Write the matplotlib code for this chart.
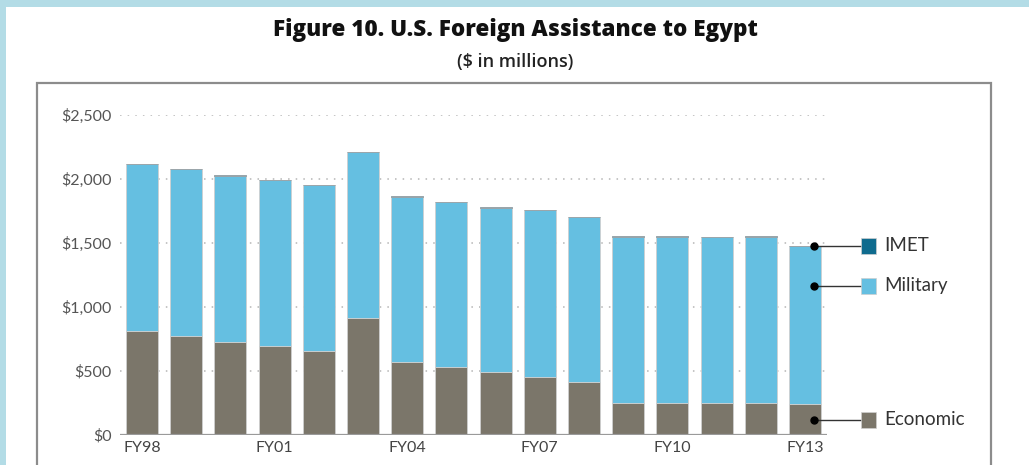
import matplotlib
matplotlib.use("Agg")
import matplotlib.pyplot as plt
from matplotlib.patches import Rectangle
import numpy as np

# ---- data ($ in millions) ----
years = ["FY98", "FY99", "FY00", "FY01", "FY02", "FY03", "FY04", "FY05",
         "FY06", "FY07", "FY08", "FY09", "FY10", "FY11", "FY12", "FY13"]
economic = [815, 775, 727, 695, 655, 911, 571, 530, 490, 455, 412, 250, 250, 250, 250, 241]
military = [1300, 1300, 1300, 1300, 1300, 1300, 1292, 1290, 1287, 1300, 1289, 1300, 1300, 1297, 1300, 1234]
imet = [1.0, 1.0, 1.0, 1.0, 1.2, 1.2, 1.4, 1.2, 1.2, 1.3, 1.2, 1.3, 1.9, 1.4, 1.4, 1.8]
yticks = [0, 500, 1000, 1500, 2000, 2500]
ytick_labels = ["$0", "$500", "$1,000", "$1,500", "$2,000", "$2,500"]
xtick_labels = ["FY98", "FY01", "FY04", "FY07", "FY10", "FY13"]
series_names = ["IMET", "Military", "Economic"]

C_ECON = "#7b766a"
C_MIL = "#65bfe1"
C_IMET = "#0f6b8e"
C_BG = "#b3dce6"

W, H = 1029, 465
fig = plt.figure(figsize=(W / 100, H / 100), dpi=100)
fig.patch.set_facecolor(C_BG)

def fx(px):
    return px / W

def fy(py):
    return 1 - py / H

# white panel
fig.add_artist(Rectangle((fx(6), 0), 1 - fx(6), fy(7), transform=fig.transFigure,
                         facecolor="white", edgecolor="none", zorder=0))
# inner box
fig.add_artist(Rectangle((fx(37), fy(500)), fx(991) - fx(37), fy(83) - fy(500),
                         transform=fig.transFigure, facecolor="none",
                         edgecolor="#8c8c8c", linewidth=1.6, zorder=1))

# titles
fig.text(fx(515), fy(30), "Figure 10. U.S. Foreign Assistance to Egypt", ha="center",
         va="center", fontsize=16.2, fontweight=800, family="Open Sans", color="#111111")
fig.text(fx(515), fy(62), "($ in millions)", ha="center", va="center",
         fontsize=13, fontweight=600, family="Open Sans", color="#222222")

ax = fig.add_axes([fx(120), fy(435), fx(827) - fx(120), fy(115) - fy(435)])
ax.set_facecolor("none")
x = np.arange(len(years))
econ = np.array(economic, float)
mil = np.array(military, float)
im = np.array(imet, float)
bw = 0.725
ax.bar(x, econ, width=bw, color=C_ECON, edgecolor="#cfcfcf", linewidth=0.6, zorder=3)
ax.bar(x, mil, width=bw, bottom=econ, color=C_MIL, edgecolor="#cfcfcf", linewidth=0.6, zorder=3)
ax.bar(x, im, width=bw, bottom=econ + mil, color=C_IMET, edgecolor="#9aa5aa",
       linewidth=0.7, zorder=4)

ax.set_xlim(-0.5, 15.5)
ax.set_ylim(0, 2500)
for v in yticks[1:]:
    ax.axhline(v, color="#b5b5b5", linestyle=(0, (1, 4)), linewidth=1.1, zorder=1)
ax.axhline(0, color="#9a9a9a", linewidth=1.6, zorder=5)

for s in ax.spines.values():
    s.set_visible(False)
ax.set_yticks(yticks)
ax.set_yticklabels(ytick_labels, family="Lato", fontsize=11.5, color="#555555")
ax.set_xticks([years.index(t) for t in xtick_labels])
ax.set_xticklabels(xtick_labels, family="Lato", fontsize=11.5, color="#444444")
ax.tick_params(axis="both", length=0)
ax.tick_params(axis="y", pad=6)
ax.tick_params(axis="x", pad=4)

# legend with leader lines
last = len(years) - 1
dot_x = last + 0.2
y_imet = econ[last] + mil[last] + im[last]
y_mil = econ[last] + 0.75 * mil[last]
y_econ = econ[last] / 2
sq_x0, sq_x1, lab_x = 16.26, 16.62, 16.8
for name, yv, col in zip(series_names, [y_imet, y_mil, y_econ], [C_IMET, C_MIL, C_ECON]):
    ax.plot([dot_x, sq_x0], [yv, yv], color="#333333", linewidth=1.0, clip_on=False, zorder=6)
    ax.plot([dot_x], [yv], marker="o", markersize=5, color="black", clip_on=False, zorder=7)
    ax.add_patch(Rectangle((sq_x0, yv - 62), sq_x1 - sq_x0, 124, facecolor=col,
                           edgecolor="#cfcfcf", linewidth=0.5, clip_on=False, zorder=6))
    ax.text(lab_x, yv, name, va="center", ha="left", family="Lato", fontsize=13.5,
            color="#333333", clip_on=False)

fig.savefig("out.png", dpi=100, facecolor=fig.get_facecolor())
